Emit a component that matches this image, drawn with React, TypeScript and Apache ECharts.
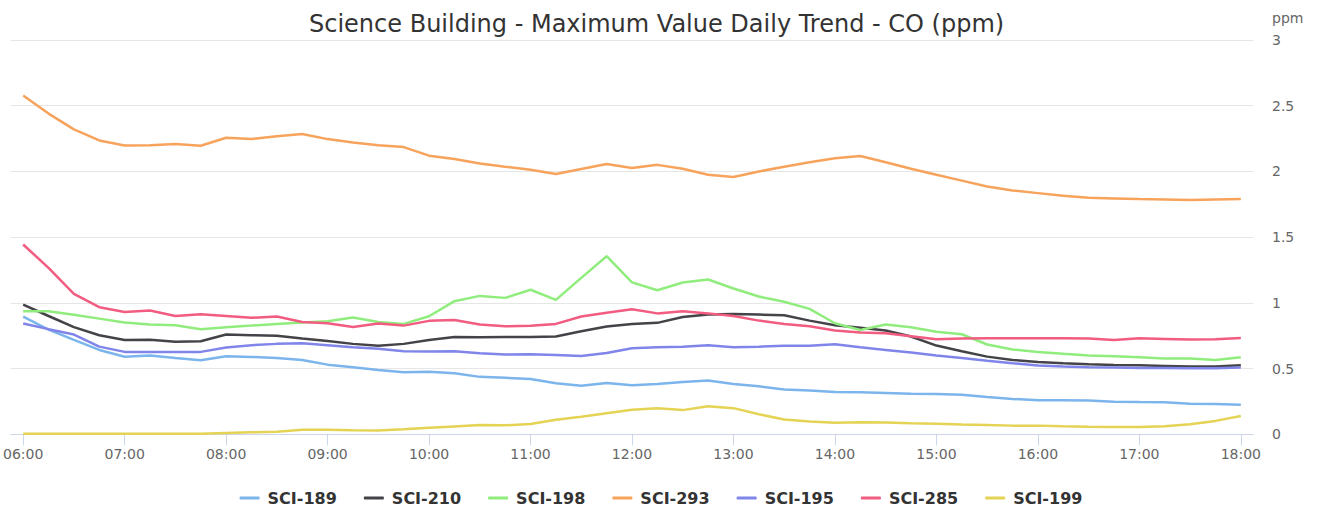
import React, { useEffect, useRef } from "react";
import * as echarts from "echarts";

const times = [
  "06:00", "06:15", "06:30", "06:45", "07:00", "07:15", "07:30", "07:45",
  "08:00", "08:15", "08:30", "08:45", "09:00", "09:15", "09:30", "09:45",
  "10:00", "10:15", "10:30", "10:45", "11:00", "11:15", "11:30", "11:45",
  "12:00", "12:15", "12:30", "12:45", "13:00", "13:15", "13:30", "13:45",
  "14:00", "14:15", "14:30", "14:45", "15:00", "15:15", "15:30", "15:45",
  "16:00", "16:15", "16:30", "16:45", "17:00", "17:15", "17:30", "17:45",
  "18:00",
];

const hourTicks = [
  "06:00", "07:00", "08:00", "09:00", "10:00", "11:00", "12:00",
  "13:00", "14:00", "15:00", "16:00", "17:00", "18:00",
];

const sci189 = [
  0.896, 0.797, 0.718, 0.642, 0.59, 0.6, 0.58, 0.563,
  0.594, 0.589, 0.58, 0.566, 0.53, 0.51, 0.49, 0.472,
  0.475, 0.465, 0.437, 0.43, 0.42, 0.388, 0.37, 0.39,
  0.374, 0.383, 0.398, 0.409, 0.383, 0.365, 0.34, 0.334,
  0.321, 0.319, 0.314, 0.309, 0.306, 0.3, 0.284, 0.269,
  0.26, 0.26, 0.258, 0.248, 0.245, 0.243, 0.233, 0.23,
  0.225,
];
const sci210 = [
  0.987, 0.9, 0.815, 0.754, 0.718, 0.72, 0.705, 0.708,
  0.759, 0.754, 0.749, 0.728, 0.71, 0.688, 0.673, 0.688,
  0.718, 0.741, 0.739, 0.741, 0.741, 0.744, 0.784, 0.82,
  0.84, 0.848, 0.893, 0.911, 0.916, 0.911, 0.906, 0.865,
  0.83, 0.81, 0.79, 0.744, 0.675, 0.632, 0.591, 0.566,
  0.551, 0.541, 0.533, 0.528, 0.525, 0.52, 0.515, 0.515,
  0.525,
];
const sci198 = [
  0.937, 0.937, 0.91, 0.88, 0.85, 0.835, 0.83, 0.8,
  0.815, 0.827, 0.84, 0.85, 0.86, 0.888, 0.855, 0.84,
  0.898, 1.013, 1.053, 1.038, 1.1, 1.023, 1.19, 1.355,
  1.156, 1.096, 1.155, 1.178, 1.109, 1.048, 1.008, 0.954,
  0.845, 0.794, 0.835, 0.815, 0.78, 0.761, 0.683, 0.645,
  0.627, 0.612, 0.6, 0.594, 0.586, 0.576, 0.576, 0.566,
  0.586,
];
const sci293 = [
  2.577, 2.44, 2.32, 2.236, 2.197, 2.2, 2.208, 2.195,
  2.256, 2.246, 2.267, 2.285, 2.246, 2.22, 2.2, 2.185,
  2.12, 2.095, 2.06, 2.036, 2.013, 1.98, 2.018, 2.056,
  2.026, 2.05, 2.02, 1.975, 1.957, 2.0, 2.035, 2.07,
  2.1, 2.117, 2.07, 2.02, 1.975, 1.93, 1.885, 1.855,
  1.835, 1.815, 1.8, 1.795, 1.79, 1.787, 1.783, 1.787,
  1.79,
];
const sci195 = [
  0.843, 0.8, 0.759, 0.667, 0.627, 0.627, 0.627, 0.627,
  0.66, 0.678, 0.688, 0.693, 0.678, 0.662, 0.65, 0.632,
  0.63, 0.632, 0.617, 0.607, 0.609, 0.604, 0.596, 0.619,
  0.654, 0.662, 0.667, 0.678, 0.662, 0.667, 0.673, 0.673,
  0.685, 0.662, 0.642, 0.622, 0.6, 0.58, 0.56, 0.541,
  0.523, 0.515, 0.51, 0.508, 0.505, 0.505, 0.503, 0.503,
  0.508,
];
const sci285 = [
  1.444, 1.266, 1.069, 0.967, 0.931, 0.942, 0.9, 0.914,
  0.9, 0.886, 0.896, 0.855, 0.845, 0.817, 0.843, 0.827,
  0.863, 0.87, 0.835, 0.822, 0.825, 0.84, 0.896, 0.924,
  0.951, 0.92, 0.937, 0.92, 0.9, 0.865, 0.84, 0.822,
  0.79, 0.774, 0.769, 0.746, 0.723, 0.728, 0.731, 0.731,
  0.731, 0.731, 0.728, 0.718, 0.731, 0.726, 0.721, 0.723,
  0.733,
];
const sci199 = [
  0.005, 0.005, 0.005, 0.005, 0.005, 0.005, 0.005, 0.005,
  0.01, 0.015, 0.02, 0.035, 0.035, 0.03, 0.028, 0.038,
  0.05, 0.06, 0.07, 0.068, 0.079, 0.11, 0.133, 0.16,
  0.187, 0.199, 0.184, 0.214, 0.199, 0.153, 0.112, 0.097,
  0.087, 0.092, 0.089, 0.084, 0.08, 0.074, 0.071, 0.066,
  0.066, 0.061, 0.058, 0.056, 0.056, 0.061, 0.076, 0.102,
  0.14,
];

const seriesNames = ["SCI-189", "SCI-210", "SCI-198", "SCI-293", "SCI-195", "SCI-285", "SCI-199"];
const seriesValues = [sci189, sci210, sci198, sci293, sci195, sci285, sci199];
const colors = ["#7cb5ec", "#434348", "#90ed7d", "#f7a35c", "#8085e9", "#f15c80", "#e4d354"];

const FONT = "'DejaVu Sans', sans-serif";

function toMin(t: string): number {
  const [h, m] = t.split(":").map(Number);
  return h * 60 + m;
}
function fmt(v: number): string {
  const h = Math.floor(v / 60);
  const m = Math.round(v - h * 60);
  return String(h).padStart(2, "0") + ":" + String(m).padStart(2, "0");
}

export default function App() {
  const ref = useRef<HTMLDivElement>(null);
  useEffect(() => {
    if (!ref.current) return;
    const chart = echarts.init(ref.current, undefined, { renderer: "svg" });
    const hourVals = hourTicks.map(toMin);
    const option: any = {
      animation: false,
      backgroundColor: "#ffffff",
      color: colors,
      title: {
        text: "Science Building - Maximum Value Daily Trend - CO (ppm)",
        left: 304,
        top: 7,
        textStyle: { fontFamily: FONT, fontSize: 24, fontWeight: "normal", color: "#333333" },
      },
      grid: { left: 5.5, right: 69, top: 40, bottom: 74.7, containLabel: false },
      xAxis: {
        type: "value",
        min: 352.8,
        max: 1087.2,
        axisLine: { show: true, lineStyle: { color: "#ccd6eb", width: 1 } },
        axisTick: { show: true, length: 11, lineStyle: { color: "#ccd6eb" }, customValues: hourVals },
        axisLabel: {
          customValues: hourVals,
          formatter: (v: number) => fmt(v),
          color: "#666666",
          fontSize: 14,
          margin: 13,
          fontFamily: FONT,
        },
        splitLine: { show: false },
      },
      yAxis: {
        type: "value",
        position: "right",
        min: 0,
        max: 3,
        interval: 0.5,
        name: "ppm",
        nameLocation: "end",
        nameGap: 15,
        nameTextStyle: { color: "#666666", fontSize: 14, fontFamily: FONT, align: "left", padding: [0, 0, 0, 19] },
        axisLine: { show: false },
        axisTick: { show: false },
        axisLabel: { color: "#666666", fontSize: 14, margin: 19, fontFamily: FONT },
        splitLine: { show: true, lineStyle: { color: "#e6e6e6", width: 1 } },
      },
      legend: {
        left: "center",
        top: 485,
        icon: "roundRect",
        itemWidth: 20,
        itemHeight: 3,
        itemGap: 27,
        data: seriesNames,
        textStyle: { fontFamily: FONT, fontSize: 16, fontWeight: "bold", color: "#333333", padding: [0, 0, 0, 3] },
      },
      series: seriesNames.map((name, i) => ({
        name,
        type: "line",
        showSymbol: false,
        symbol: "none",
        lineStyle: { width: 2.5, color: colors[i] },
        itemStyle: { color: colors[i] },
        data: times.map((t, j) => [toMin(t), seriesValues[i][j]]),
      })),
    };
    chart.setOption(option);
    return () => chart.dispose();
  }, []);
  return (
    <div
      ref={ref}
      style={{ position: "absolute", left: 0, top: 0, width: 1322, height: 509 }}
    />
  );
}
